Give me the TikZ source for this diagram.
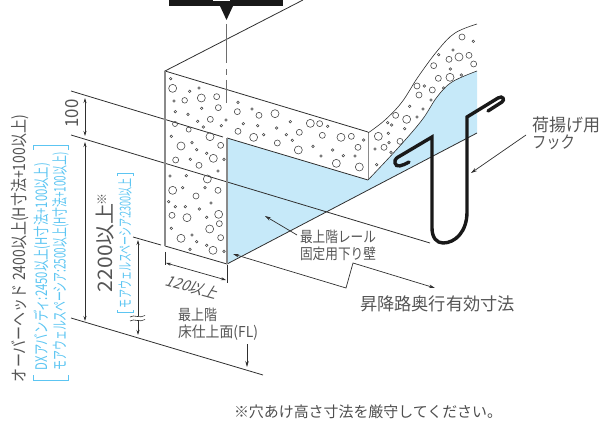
\documentclass[tikz,border=0pt]{standalone}
\usepackage{fontspec}
\usepackage{graphicx}
\setmainfont{Noto Sans CJK JP}
\usetikzlibrary{arrows.meta}
\definecolor{inkc}{HTML}{2F2F2F}
\definecolor{txtc}{HTML}{555555}
\definecolor{holec}{HTML}{4A4A4A}
\definecolor{bluef}{HTML}{C6E9F9}
\definecolor{bluet}{HTML}{5CC5F2}
\definecolor{edgeg}{HTML}{8A8A8A}
\newsavebox{\fitb}
\newcommand{\xfit}[2]{\sbox{\fitb}{#2}\pgfmathsetmacro{\fitr}{#1/(\wd\fitb/1pt)}\scalebox{\fitr}[1]{\usebox{\fitb}}}
\newcommand{\fz}[1]{\fontsize{#1pt}{#1pt}\selectfont}
\tikzset{
  thin line/.style={draw=inkc,line width=0.8pt},
  dimline/.style={draw=inkc,line width=0.7pt,{Stealth[length=5pt,width=3pt]}-{Stealth[length=5pt,width=3pt]}},
  leader/.style={draw=inkc,line width=0.7pt,-{Stealth[length=6pt,width=3.5pt]}},
  sideedge/.style={draw=edgeg,line width=1.2pt},
  holes/.style={draw=holec,line width=0.6pt},
  label/.style={inner sep=0,outer sep=0,text=txtc,anchor=west},
  vlabel/.style={inner sep=0,outer sep=0,text=txtc,rotate=90,anchor=center},
  blabel/.style={vlabel,text=bluet},
  bracket/.style={draw=bluet,line width=0.7pt},
  hookline/.style={draw=black!90!white,line width=3.4pt,line join=miter,line cap=round},
}
\begin{document}
\begin{tikzpicture}[x=1pt,y=-1pt]
\useasboundingbox (0,0) rectangle (604,427);
% blue wall
\fill[bluef] (227,138) -- (368,180) -- plot[smooth,tension=0.6] coordinates {(368,180) (398,148) (422,120) (437,97) (452,82) (477,71)} -- (477,133) -- (227,264) -- cycle;
% leader hidden lines
\draw[thin line] (71,91) -- (223,137);
\draw[thin line] (71,135) -- (430,243);
\draw[thin line] (71,318) -- (263,375);
\draw[thin line] (133,237) -- (161,245);
% slab outline
\draw[thin line] (303,0) -- (165,71) -- (368,132);
\draw[thin line] (227,138) -- (368,180);
\draw[thin line] (165,246) -- (227,264) -- (477,133);
\draw[sideedge] (165,71) -- (165,246);
\draw[sideedge] (227,138) -- (227,264);
\draw[draw=edgeg,line width=1pt] (368,132) -- (368,180);
\draw[draw=inkc,line width=0.6pt] plot[smooth,tension=0.6] coordinates {(368,133) (385,120) (402,102) (418,77) (438,50) (455,33) (477,24)};
\draw[draw=inkc,line width=0.6pt] plot[smooth,tension=0.6] coordinates {(368,180) (398,148) (422,120) (437,97) (452,82) (477,71)};
% holes
\begin{scope}[shift={(160,70)},x=0.3333pt,y=-0.3333pt]
\foreach \a/\b/\r in {32/26/1.3,38/55/4,89/64/1.3,117/54/1.3,124/84/4,170/80/3,42/93/1.3,74/91/2.8,46/125/1.3,84/133/1.3,125/115/1.3,175/113/3,234/97/1.3,232/125/3,276/117/1.3,297/136/3,45/162/2.5,86/179/2.5,113/154/1.3,151/148/3,130/171/1.3,198/150/1.3,184/167/1.3,250/161/1.3,293/167/1.3,234/184/3,281/202/4,311/194/1.3,34/199/1.3,150/200/4,63/228/4,96/218/1.3,182/226/3,110/239/1.3,140/250/1.3,160/265/4,192/268/1.3,47/270/3,91/268/1.3,117/286/3}
  \draw[holes] (\a,\b) circle[radius=\r pt];
\end{scope}
\begin{scope}[shift={(160,160)},x=0.3333pt,y=-0.3333pt]
\foreach \a/\b/\r in {174/33/1.3,30/48/1.3,79/47/1.3,142/57/4,38/91/4,68/83/1.3,135/83/1.3,174/91/3,108/108/3,26/125/1.3,46/140/1.3,76/140/1.3,153/129/1.3,118/147/1.3,36/166/3,81/173/4,176/163/4,140/172/1.3,178/191/3,34/205/1.3,149/207/4,63/235/4,96/225/1.3,182/233/3,110/245/1.3,140/256/1.3,159/271/4,192/274/1.3,90/268/1.3}
  \draw[holes] (\a,\b) circle[radius=\r pt];
\end{scope}
\begin{scope}[shift={(260,90)},x=0.3333pt,y=-0.3333pt]
\foreach \a/\b/\r in {45/71/4,91/95/1.3,50/114/1.3,79/134/1.3,118/127/3,97/151/1.3,52/159/3,151/100/4,179/101/3,203/109/1.3,187/136/3,243/142/4,274/139/3,311/150/1.3,294/172/3,115/180/4,159/169/1.3,218/180/1.3,183/198/1.3,250/197/1.3,285/198/1.3,229/220/4,298/231/4}
  \draw[holes] (\a,\b) circle[radius=\r pt];
\end{scope}
\begin{scope}[shift={(365,20)},x=0.3333pt,y=-0.3333pt]
\foreach \a/\b/\r in {40/349/4,70/340/1.3,30/387/1.3,57/382/3,72/368/1.3,78/397/1.3,105/364/3,35/434/1.3,92/286/3,68/308/1.3,80/315/1.3,125/298/4,119/326/1.3,156/291/1.3,134/259/1.3,174/267/1.3,156/198/3,178/198/1.3,162/225/3,202/210/3,198/240/1.3,236/204/1.3,220/175/3,255/172/4,289/165/1.3,256/147/1.3,206/137/3,221/104/1.3,252/118/3,282/111/4,264/90/1.3,312/106/3,326/132/3,291/51/3,325/64/1.3}
  \draw[holes] (\a,\b) circle[radius=\r pt];
\end{scope}
% centre line and black callout
\fill[black!90!white] (169,0) rectangle (283,6);
\fill[black!90!white] (220,6) -- (233,6) -- (226.5,20) -- cycle;
\fill[white] (213,0) rectangle (230,1);
\draw[draw=edgeg!80!black,line width=1pt] (226.5,24) -- (226.5,63) (226.5,69) -- (226.5,75) (226.5,80) -- (226.5,103);
% hook
\draw[hookline] (409,162) .. controls (402,166) and (396,168) .. (395,163) .. controls (394,159) and (398,157) .. (400,156) -- (432,137) -- (432,228) .. controls (432,238) and (437,243) .. (443,243) .. controls (455,243) and (467,232) .. (467,212) -- (467,117) -- (498,98) .. controls (503,95) and (505,100) .. (502,102) -- (488,111);
% dimensions
\coordinate (d100a) at (85,98); \coordinate (d100b) at (85,136);
\coordinate (d220a) at (85,142); \coordinate (d220b) at (85,321);
\coordinate (d230a) at (138,240); \coordinate (d230b) at (138,335);
\draw[dimline] (d100a) -- (d100b);
\draw[dimline] (d220a) -- (d220b);
\draw[dimline] (d230a) -- (d230b);
\fill[white] (130,316) rectangle (146,320);
\draw[draw=inkc,line width=0.6pt] (130,317) .. controls (134,314) and (140,319) .. (145,315.5);
\draw[draw=inkc,line width=0.6pt] (130,321) .. controls (134,318) and (140,323) .. (145,319.5);
% 120 dimension
\draw[draw=inkc,line width=0.7pt] (165,252) -- (165,265);
\draw[draw=inkc,line width=0.7pt] (227,265) -- (227,283);
\coordinate (d120a) at (166,263); \coordinate (d120b) at (226,280);
\draw[dimline] (d120a) -- (d120b);
\begin{scope}[shift={(193,287)},rotate=-15,xslant=0.3]
\node[inner sep=0,text=txtc,transform shape,anchor=center] (t120) {\fz{15}\xfit{52}{120以上}};
\end{scope}
% rotated labels
\node[vlabel] (t100) at (72,113.5) {\fz{18}\xfit{28}{100}};
\node[vlabel] (t2200) at (105,247.5) {\fz{20}\xfit{89}{2200以上}};
\node[vlabel] (tmark) at (102,199.5) {\fz{12}※};
\node[vlabel] (tover) at (20,248.5) {\fz{17}\xfit{267}{オーバーヘッド 2400以上(H寸法+100以上)}};
\node[blabel] (tdx) at (42,266.5) {\fz{16}\xfit{207}{DXアバンディ:2450以上(H寸法+100以上)}};
\node[blabel] (tmore) at (60.5,261.5) {\fz{16}\xfit{218}{モアウェルスペーシア:2500以上(H寸法+100以上)}};
\node[blabel] (tmore2) at (125,243) {\fz{15}\xfit{130}{モアウェルスペーシア:2300以上}};
\draw[bracket] (33.5,375) -- (33.5,380) -- (68,380) -- (68,375);
\draw[bracket] (33.5,150) -- (33.5,145) -- (68,145) -- (68,150);
\draw[bracket] (117,310) -- (117,312.5) -- (133,312.5) -- (133,310);
\draw[bracket] (117,176) -- (117,173.5) -- (133,173.5) -- (133,176);
% floor label
\node[label] (tfl1) at (178,314.5) {\fz{15}\xfit{39}{最上階}};
\node[label] (tfl2) at (178,332.5) {\fz{15}\xfit{80}{床仕上面(FL)}};
\coordinate (flend) at (247,367);
\draw[leader] (247,344) -- (flend);
% wall label
\node[label] (twall1) at (300,237) {\fz{15}\xfit{76}{最上階レール}};
\node[label] (twall2) at (300,254) {\fz{15}\xfit{76}{固定用下り壁}};
\coordinate (wallstart) at (297,235); \coordinate (walltip) at (265,216);
\draw[leader] (wallstart) -- (walltip);
% depth dimension
\coordinate (depa) at (233,254); \coordinate (depb) at (346,288);
\coordinate (depc) at (353,263); \coordinate (depd) at (435,288);
\draw[leader,{Stealth[length=6pt,width=3.5pt]}-{Stealth[length=6pt,width=3.5pt]}] (depa) -- (depb) -- (depc) -- (depd);
\node[label] (tdepth) at (360,304) {\fz{17.5}\xfit{155}{昇降路奥行有効寸法}};
% hook label
\node[label] (thook1) at (532,125) {\fz{17.5}\xfit{68}{荷揚げ用}};
\node[label] (thook2) at (532,142) {\fz{17}\xfit{43}{フック}};
\coordinate (hooka) at (526,135); \coordinate (hookb) at (471,173);
\draw[leader] (hooka) -- (hookb);
% footnote
\node[label,text=inkc!85!white] (tnote) at (234,411.5) {\fz{15}\xfit{268}{※穴あけ高さ寸法を厳守してください。}};
\end{tikzpicture}
\end{document}
